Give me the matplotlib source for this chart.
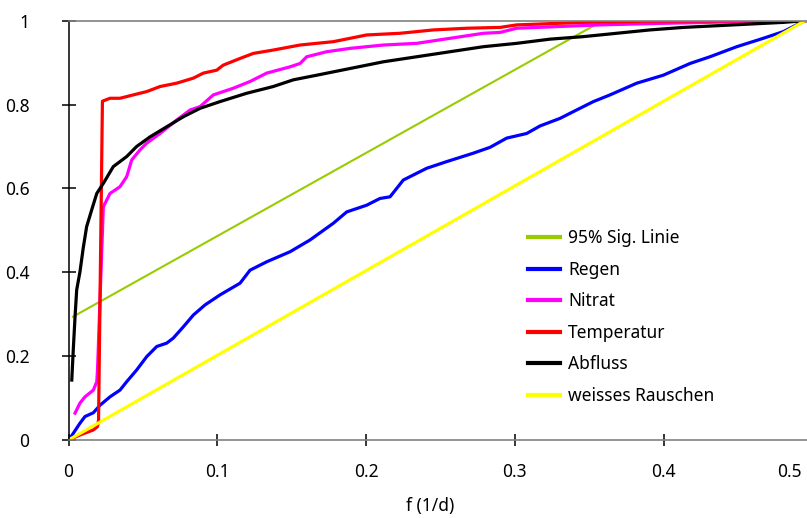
import matplotlib
matplotlib.use("Agg")
import matplotlib.pyplot as plt
import matplotlib.transforms as mtransforms

plt.rcParams['font.family'] = ['Noto Sans', 'DejaVu Sans']

# Cumulative spectra (f in 1/d)
regen_f = [0, 0.001, 0.0077, 0.0111, 0.0167, 0.0212, 0.0279, 0.0346, 0.0391, 0.0458,
           0.0526, 0.0593, 0.0660, 0.0704, 0.0772, 0.0839, 0.0917, 0.1018, 0.1153,
           0.1220, 0.1332, 0.1489, 0.1623, 0.1780, 0.1870, 0.2004, 0.2093, 0.2161,
           0.2250, 0.2407, 0.2542, 0.2720, 0.2833, 0.2945, 0.3079, 0.3169, 0.3303,
           0.3392, 0.3527, 0.3639, 0.3819, 0.3997, 0.4177, 0.4311, 0.4491, 0.4669,
           0.4804, 0.495]
regen = [0, 0.004, 0.040, 0.056, 0.065, 0.083, 0.103, 0.119, 0.139, 0.167,
         0.199, 0.223, 0.231, 0.243, 0.270, 0.298, 0.322, 0.346, 0.374,
         0.405, 0.425, 0.449, 0.477, 0.517, 0.544, 0.560, 0.576, 0.580,
         0.620, 0.648, 0.664, 0.684, 0.698, 0.720, 0.731, 0.749, 0.767,
         0.783, 0.807, 0.823, 0.851, 0.870, 0.898, 0.914, 0.938, 0.958,
         0.974, 1.0]

temp_f = [0, 0.0077, 0.0167, 0.0195, 0.0202, 0.0228, 0.0279, 0.0346, 0.0435, 0.0526,
          0.0615, 0.0727, 0.0839, 0.0906, 0.0996, 0.1040, 0.1153, 0.1242, 0.1376,
          0.1556, 0.1780, 0.2004, 0.2228, 0.2452, 0.2676, 0.2900, 0.3012, 0.346,
          0.3908, 0.495]
temp = [0, 0.012, 0.024, 0.032, 0.048, 0.808, 0.815, 0.815, 0.823, 0.831,
        0.843, 0.851, 0.863, 0.875, 0.882, 0.894, 0.910, 0.922, 0.930,
        0.942, 0.950, 0.966, 0.970, 0.978, 0.982, 0.984, 0.990, 0.996,
        0.999, 1.0]

nitrat_f = [0.0044, 0.0077, 0.0111, 0.0167, 0.0190, 0.0195, 0.0234, 0.0279, 0.0346,
            0.0391, 0.0425, 0.0481, 0.0526, 0.0615, 0.0727, 0.0817, 0.0884, 0.0973,
            0.1108, 0.1220, 0.1332, 0.1489, 0.1556, 0.1601, 0.1735, 0.1892, 0.2116,
            0.2340, 0.2564, 0.2788, 0.2900, 0.3012, 0.3572, 0.4020, 0.4580, 0.495]
nitrat = [0.064, 0.088, 0.103, 0.119, 0.139, 0.167, 0.556, 0.588, 0.604,
          0.628, 0.668, 0.692, 0.708, 0.731, 0.763, 0.787, 0.795, 0.823,
          0.839, 0.855, 0.875, 0.890, 0.898, 0.914, 0.926, 0.934, 0.942,
          0.946, 0.958, 0.970, 0.972, 0.982, 0.990, 0.994, 0.998, 1.0]

abfluss_f = [0.0022, 0.0032, 0.0044, 0.0055, 0.0077, 0.0099, 0.0122, 0.0156, 0.0190,
             0.0234, 0.0301, 0.0391, 0.0458, 0.0548, 0.0660, 0.0772, 0.0884, 0.1018,
             0.1198, 0.1376, 0.1511, 0.1668, 0.1892, 0.2116, 0.2340, 0.2564, 0.2788,
             0.3012, 0.3236, 0.3460, 0.3684, 0.3908, 0.4132, 0.4356, 0.4580, 0.4804,
             0.495]
abfluss = [0.143, 0.215, 0.294, 0.358, 0.401, 0.458, 0.509, 0.549, 0.588,
           0.612, 0.652, 0.676, 0.700, 0.723, 0.747, 0.771, 0.791, 0.807,
           0.827, 0.843, 0.859, 0.870, 0.886, 0.902, 0.914, 0.926, 0.938,
           0.946, 0.956, 0.962, 0.970, 0.978, 0.984, 0.988, 0.992, 0.996,
           1.0]

rauschen_f = [0, 0.495]
rauschen = [0, 1.0]

sig_f = [0.003, 0.359]
sig = [0.294, 1.0]

xticks = [0, 0.1, 0.2, 0.3, 0.4, 0.5]
xtick_labels = ['0', '0.1', '0.2', '0.3', '0.4', '0.5']
yticks = [0, 0.2, 0.4, 0.6, 0.8, 1.0]
ytick_labels = ['0', '0.2', '0.4', '0.6', '0.8', '1']

fig = plt.figure(figsize=(8.07, 5.18), dpi=100)
ax = fig.add_axes([68.5 / 807, 78 / 518, 744 / 807, 419.3 / 518])

ax.plot(sig_f, sig, color='#99cc00', lw=1.5, label='95% Sig. Linie')
ax.plot(regen_f, regen, color='#0000ff', lw=2.3, label='Regen')
ax.plot(nitrat_f, nitrat, color='#ff00ff', lw=2.3, label='Nitrat')
ax.plot(temp_f, temp, color='#ff0000', lw=2.3, label='Temperatur')
ax.plot(abfluss_f, abfluss, color='black', lw=2.3, label='Abfluss')
ax.plot(rauschen_f, rauschen, color='#ffff00', lw=2.3, label='weisses Rauschen')

ax.set_xlim(0, 0.5)
ax.set_ylim(0, 1)
ax.set_xticks(xticks)
ax.set_xticklabels(xtick_labels)
ax.set_yticks(yticks)
ax.set_yticklabels(ytick_labels)

ax.spines['right'].set_visible(False)
ax.spines['top'].set_color('#808080')
ax.spines['top'].set_linewidth(1.2)
ax.spines['bottom'].set_color('#808080')
ax.spines['bottom'].set_linewidth(1.2)
ax.spines['left'].set_color('black')
ax.spines['left'].set_linewidth(1.1)

ax.tick_params(axis='x', direction='inout', length=8.5, width=1.1, pad=12, labelsize=12.5)
ax.tick_params(axis='y', direction='inout', length=10, width=1.1, pad=23, labelsize=12.5)

# last x label sits left of its tick, as in the original
lbl = ax.get_xticklabels()[-1]
lbl.set_transform(lbl.get_transform() + mtransforms.ScaledTranslation(-0.23, 0, fig.dpi_scale_trans))

ax.set_xlabel('f (1/d)', fontsize=12.5)
ax.xaxis.set_label_coords(0.486, -0.137)

leg = ax.legend(loc='upper left', bbox_to_anchor=(0.6176, 0.503), frameon=False,
                fontsize=12.5, handlelength=1.85, handletextpad=0.45,
                labelspacing=0.78, borderpad=0, borderaxespad=0)
for h in leg.get_lines():
    h.set_linewidth(3)

fig.savefig('out.png', dpi=100)
